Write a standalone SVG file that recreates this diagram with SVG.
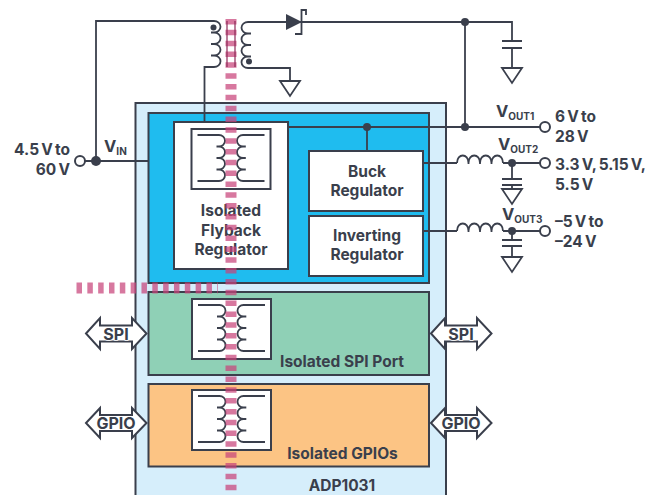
<svg xmlns="http://www.w3.org/2000/svg" width="658" height="495" viewBox="0 0 658 495">
<style>
text{font-family:Inter,"Liberation Sans",Arial,sans-serif;font-weight:700;font-size:15.5px;fill:#3a3f4c}
.m{text-anchor:middle}
.e{text-anchor:end}
.v{font-size:16.5px}
.sub{font-size:10px}
.ar{font-size:16px;stroke:#fff;stroke-width:1.5px;paint-order:stroke}
.t{word-spacing:-1.5px}
.box{stroke:#3a3f4c;stroke-width:2}
.w{fill:none;stroke:#3a3f4c;stroke-width:1.8}
.g{fill:#fff;stroke:#3a3f4c;stroke-width:1.8}
.dot{fill:#3a3f4c}
.term{fill:#fff;stroke:#3a3f4c;stroke-width:2}
.arr{fill:#fff;stroke:#3a3f4c;stroke-width:2}
.pink{fill:none;stroke:#c8447a;stroke-width:11;stroke-opacity:.72;stroke-dasharray:5.5 5.33}
</style>
<defs>
<g id="xfmr">
<rect class="box" x="0" y="0" width="79" height="60" fill="#fff"/>
<path class="w" d="M6 6H27.500a6 5.750 0 0 1 0 11.500h-2.500h2.500a6 5.750 0 0 1 0 11.500h-2.500h2.500a6 5.750 0 0 1 0 11.500h-2.500h2.500a6 5.750 0 0 1 0 11.500H6"/>
<path class="w" d="M73 6H51.500a6 5.750 0 0 0 0 11.500h2.800h-2.800a6 5.750 0 0 0 0 11.500h2.800h-2.800a6 5.750 0 0 0 0 11.500h2.800h-2.800a6 5.750 0 0 0 0 11.500H73"/>
</g>
<path id="ind" class="w" d="M0 0c0-10 11.500-10 11.500 0v1v-1c0-10 11.500-10 11.500 0v1v-1c0-10 11.500-10 11.500 0v1v-1c0-10 11.500-10 11.500 0"/>
<path id="gnd" class="g" d="M-10 0H10L0 15Z"/>
</defs>

<g id="adp1031">
<path class="box" d="M135.500 495V103H446V495" fill="#d6eefb"/>
<text class="m" x="342" y="491">ADP1031</text>
</g>
<g id="power-block"><rect class="box" x="148.500" y="113" width="280.500" height="170" fill="#1fbcef"/></g>
<g id="spi-block">
<rect class="box" x="148.500" y="292" width="280.500" height="83" fill="#8fd0b6"/>
<use href="#xfmr" x="192" y="299"/>
<text class="m" x="342" y="367">Isolated SPI Port</text>
</g>
<g id="gpio-block">
<rect class="box" x="148.500" y="384" width="280.500" height="82.500" fill="#fcc484"/>
<use href="#xfmr" x="192" y="390"/>
<text class="m" x="342.500" y="459">Isolated GPIOs</text>
</g>

<g id="connectors">
<path class="w" d="M85 161H148"/>
<path class="w" d="M96 161V21H214"/>
<path class="w" d="M214 21a6.500 5.750 0 0 1 0 11.500h-3h3a6.500 5.750 0 0 1 0 11.500h-3h3a6.500 5.750 0 0 1 0 11.500h-3h3a6.500 5.750 0 0 1 0 11.500H204.500V122"/>
<path class="w" d="M290 22H248a6.500 5.750 0 0 0 0 11.500h3h-3a6.500 5.750 0 0 0 0 11.500h3h-3a6.500 5.750 0 0 0 0 11.500h3h-3a6.500 5.750 0 0 0 0 11.500H290V81"/>
<path class="dot" d="M286 14L302 22L286 30Z"/>
<path class="w" d="M306 15V10H301.500V34H295"/>
<path class="w" d="M300 22H512V41M512 48V68"/>
<path class="w" d="M502 41H522M502 48H522"/>
<path class="w" d="M465 22V127"/>
<path class="w" d="M288 127H540M367 127V151"/>
<path class="w" d="M423 163H457M503 163H540M512 163V179M512 185V189M502 179H522M502 185H522"/>
<path class="w" d="M423 231H457M503 231H540M512 231V240M512 246V257M502 240H522M502 246H522"/>
<use href="#ind" x="457" y="163"/>
<use href="#ind" x="457" y="231"/>
<use href="#gnd" x="290" y="81"/>
<use href="#gnd" x="512" y="68"/>
<use href="#gnd" x="512" y="189"/>
<use href="#gnd" x="512" y="257"/>
<circle class="dot" cx="213.500" cy="27.500" r="3"/>
<circle class="dot" cx="249" cy="61.500" r="3"/>
<circle class="dot" cx="96" cy="161" r="5"/>
<circle class="dot" cx="465" cy="22" r="4"/>
<circle class="dot" cx="465" cy="127" r="4"/>
<circle class="dot" cx="367" cy="127" r="4"/>
<circle class="dot" cx="512" cy="163" r="4"/>
<circle class="dot" cx="512" cy="231" r="4"/>
<circle class="term" cx="80" cy="161" r="5"/>
<circle class="term" cx="545" cy="127" r="5"/>
<circle class="term" cx="545" cy="163" r="5"/>
<circle class="term" cx="545" cy="231" r="5"/>
</g>

<g id="flyback">
<rect class="box" x="174" y="122" width="114" height="147" fill="#fff"/>
<use href="#xfmr" x="191.500" y="129"/>
<text class="m" x="231" y="216">Isolated</text>
<text class="m" x="231" y="236">Flyback</text>
<text class="m" x="231" y="255">Regulator</text>
</g>
<g id="buck">
<rect class="box" x="309" y="151" width="114" height="60" fill="#fff"/>
<text class="m" x="367" y="177">Buck</text>
<text class="m" x="367" y="196">Regulator</text>
</g>
<g id="inverting">
<rect class="box" x="309" y="216" width="114" height="60" fill="#fff"/>
<text class="m" x="367" y="241">Inverting</text>
<text class="m" x="367" y="260">Regulator</text>
</g>

<g id="spi-left"><path class="arr" d="M86 333.500L100 318V325.500H132V318L146.500 333.500L132 349V341.500H100V349Z"/><text class="m ar" x="116" y="339.500">SPI</text></g>
<g id="gpio-left"><path class="arr" d="M86 423L100 408V415H132V408L146.500 423L132 438V431H100V438Z"/><text class="m ar" x="116" y="429">GPIO</text></g>
<g id="spi-right"><path class="arr" d="M431 333.500L445 318V325.500H477V318L491.500 333.500L477 349V341.500H445V349Z"/><text class="m ar" x="461" y="339.500">SPI</text></g>
<g id="gpio-right"><path class="arr" d="M431 423L445 408V415H477V408L491.500 423L477 438V431H445V438Z"/><text class="m ar" x="461" y="429">GPIO</text></g>

<g id="isolation-barrier">
<path class="pink" d="M231 19V495"/>
<path class="pink" d="M76.500 288H218"/>
<path d="M227 21V67M235 21V67" fill="none" stroke="#8e2a58" stroke-width="1.200"/>
</g>

<g id="labels">
<text class="e t" x="70" y="155">4.5 V to</text>
<text class="e t" x="70" y="175">60 V</text>
<text x="104" y="152" class="v">V<tspan class="sub" dy="3">IN</tspan></text>
<text x="496" y="117" class="v">V<tspan class="sub" dy="3">OUT1</tspan></text>
<text x="498" y="150" class="v">V<tspan class="sub" dy="3">OUT2</tspan></text>
<text x="502" y="220" class="v">V<tspan class="sub" dy="3">OUT3</tspan></text>
<text class="t" x="555" y="122">6 V to</text>
<text class="t" x="555" y="142">28 V</text>
<text class="t" x="555" y="170">3.3 V, 5.15 V,</text>
<text class="t" x="555" y="190">5.5 V</text>
<text class="t" x="555" y="227">–5 V to</text>
<text class="t" x="555" y="247">–24 V</text>
</g>
</svg>
